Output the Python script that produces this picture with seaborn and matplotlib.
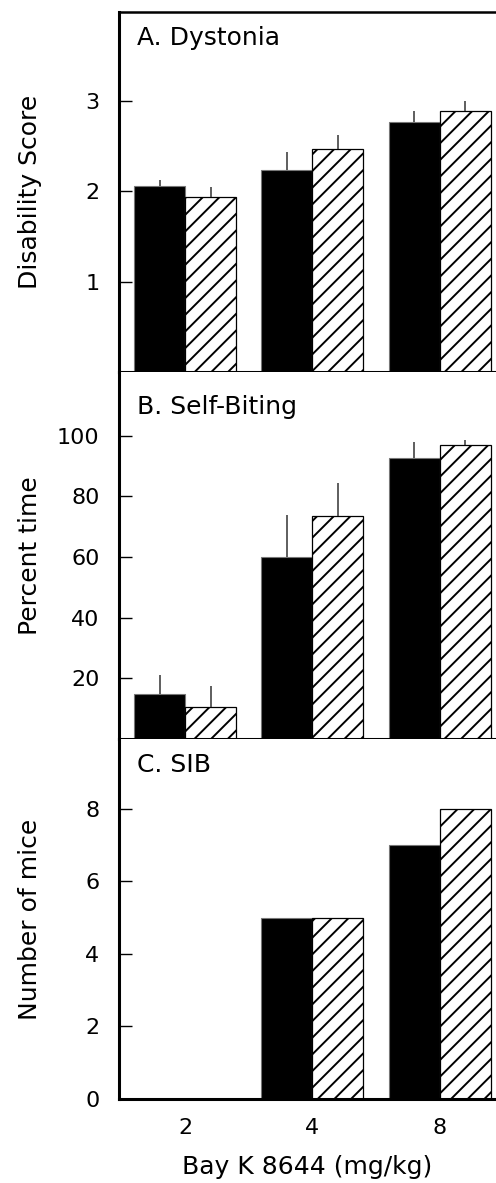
import matplotlib
matplotlib.use("Agg")
import matplotlib.pyplot as plt
import seaborn as sns
import pandas as pd
import numpy as np

# ---- data ----
doses = ["2", "4", "8"]
groups = ["solid", "hatched"]

dystonia_solid = [2.06, 2.23, 2.76]
dystonia_hatched = [1.94, 2.47, 2.88]
dystonia_solid_err = [0.06, 0.20, 0.13]
dystonia_hatched_err = [0.10, 0.15, 0.12]

biting_solid = [15.0, 60.0, 92.5]
biting_hatched = [10.5, 73.5, 97.0]
biting_solid_err = [6.0, 14.0, 5.5]
biting_hatched_err = [7.0, 11.0, 1.5]

sib_solid = [0, 5, 7]
sib_hatched = [0, 5, 8]

titles = ["A. Dystonia", "B. Self-Biting", "C. SIB"]
ylabels = ["Disability Score", "Percent time", "Number of mice"]
xlabel = "Bay K 8644 (mg/kg)"
yticks_list = [[1, 2, 3], [20, 40, 60, 80, 100], [0, 2, 4, 6, 8]]
ylims = [(0, 3.98), (0, 121), (0, 9.92)]

panels = [
    (dystonia_solid, dystonia_hatched, dystonia_solid_err, dystonia_hatched_err),
    (biting_solid, biting_hatched, biting_solid_err, biting_hatched_err),
    (sib_solid, sib_hatched, None, None),
]

sns.set_theme(style="white")
plt.rcParams["font.family"] = ["DejaVu Sans"]
plt.rcParams["hatch.linewidth"] = 1.4

W, H = 496, 1183
fig = plt.figure(figsize=(W / 100, H / 100), dpi=100)

# panel pixel extents (top, bottom)
extents = [(12, 372), (372, 739), (739, 1099)]
left_px, right_px = 119, 496
title_y = [0.928, 0.905, 0.928]

for i, ((s, h, se, he), (top, bot)) in enumerate(zip(panels, extents)):
    ax = fig.add_axes([left_px / W, (H - bot) / H, (right_px - left_px) / W, (bot - top) / H])
    df = pd.DataFrame({
        "dose": doses * 2,
        "group": [groups[0]] * 3 + [groups[1]] * 3,
        "value": list(s) + list(h),
    })
    sns.barplot(data=df, x="dose", y="value", hue="group", order=doses,
                hue_order=groups, palette={"solid": "black", "hatched": "white"},
                errorbar=None, width=0.8, ax=ax, legend=False, linewidth=0)
    c_solid, c_hatch = ax.containers[0], ax.containers[1]
    for p in c_solid:
        p.set_edgecolor("#777777")
        p.set_linewidth(0.8)
    for p in c_hatch:
        p.set_hatch("//")
        p.set_edgecolor("black")
        p.set_facecolor("white")
        p.set_linewidth(0.9)
    if se is not None:
        for cont, errs in ((c_solid, se), (c_hatch, he)):
            for p, e in zip(cont, errs):
                xc = p.get_x() + p.get_width() / 2
                yt = p.get_height()
                ax.vlines(xc, yt, yt + e, color="#333333", lw=1.1, zorder=1)
    ax.set_xlim(-0.518, 2.44)
    ax.set_ylim(*ylims[i])
    ax.set_yticks(yticks_list[i])
    ax.set_yticklabels([str(t) for t in yticks_list[i]], fontsize=16)
    ax.tick_params(axis="y", direction="in", length=9, width=1, pad=14, color="black", left=True)
    ax.set_ylabel(ylabels[i], fontsize=18, color="black")
    ax.yaxis.set_label_coords(-0.204, 0.5)
    ax.text(0.048, title_y[i], titles[i], transform=ax.transAxes, fontsize=18,
            va="center", ha="left", color="black")
    for side in ["left", "top", "bottom"]:
        ax.spines[side].set_visible(True)
        ax.spines[side].set_color("black")
        ax.spines[side].set_linewidth(2.2)
    ax.spines["right"].set_visible(False)
    if i == 0:
        ax.spines["top"].set_linewidth(1.8)
    else:
        ax.spines["top"].set_visible(False)
    if i < 2:
        ax.set_xticks([])
        ax.set_xlabel("")
    else:
        ax.tick_params(axis="x", length=0, pad=14, labelsize=16)
        ax.set_xlabel(xlabel, fontsize=18, labelpad=12, color="black")
    for lbl in ax.get_xticklabels() + ax.get_yticklabels():
        lbl.set_color("black")

fig.savefig("out.png", dpi=100)
